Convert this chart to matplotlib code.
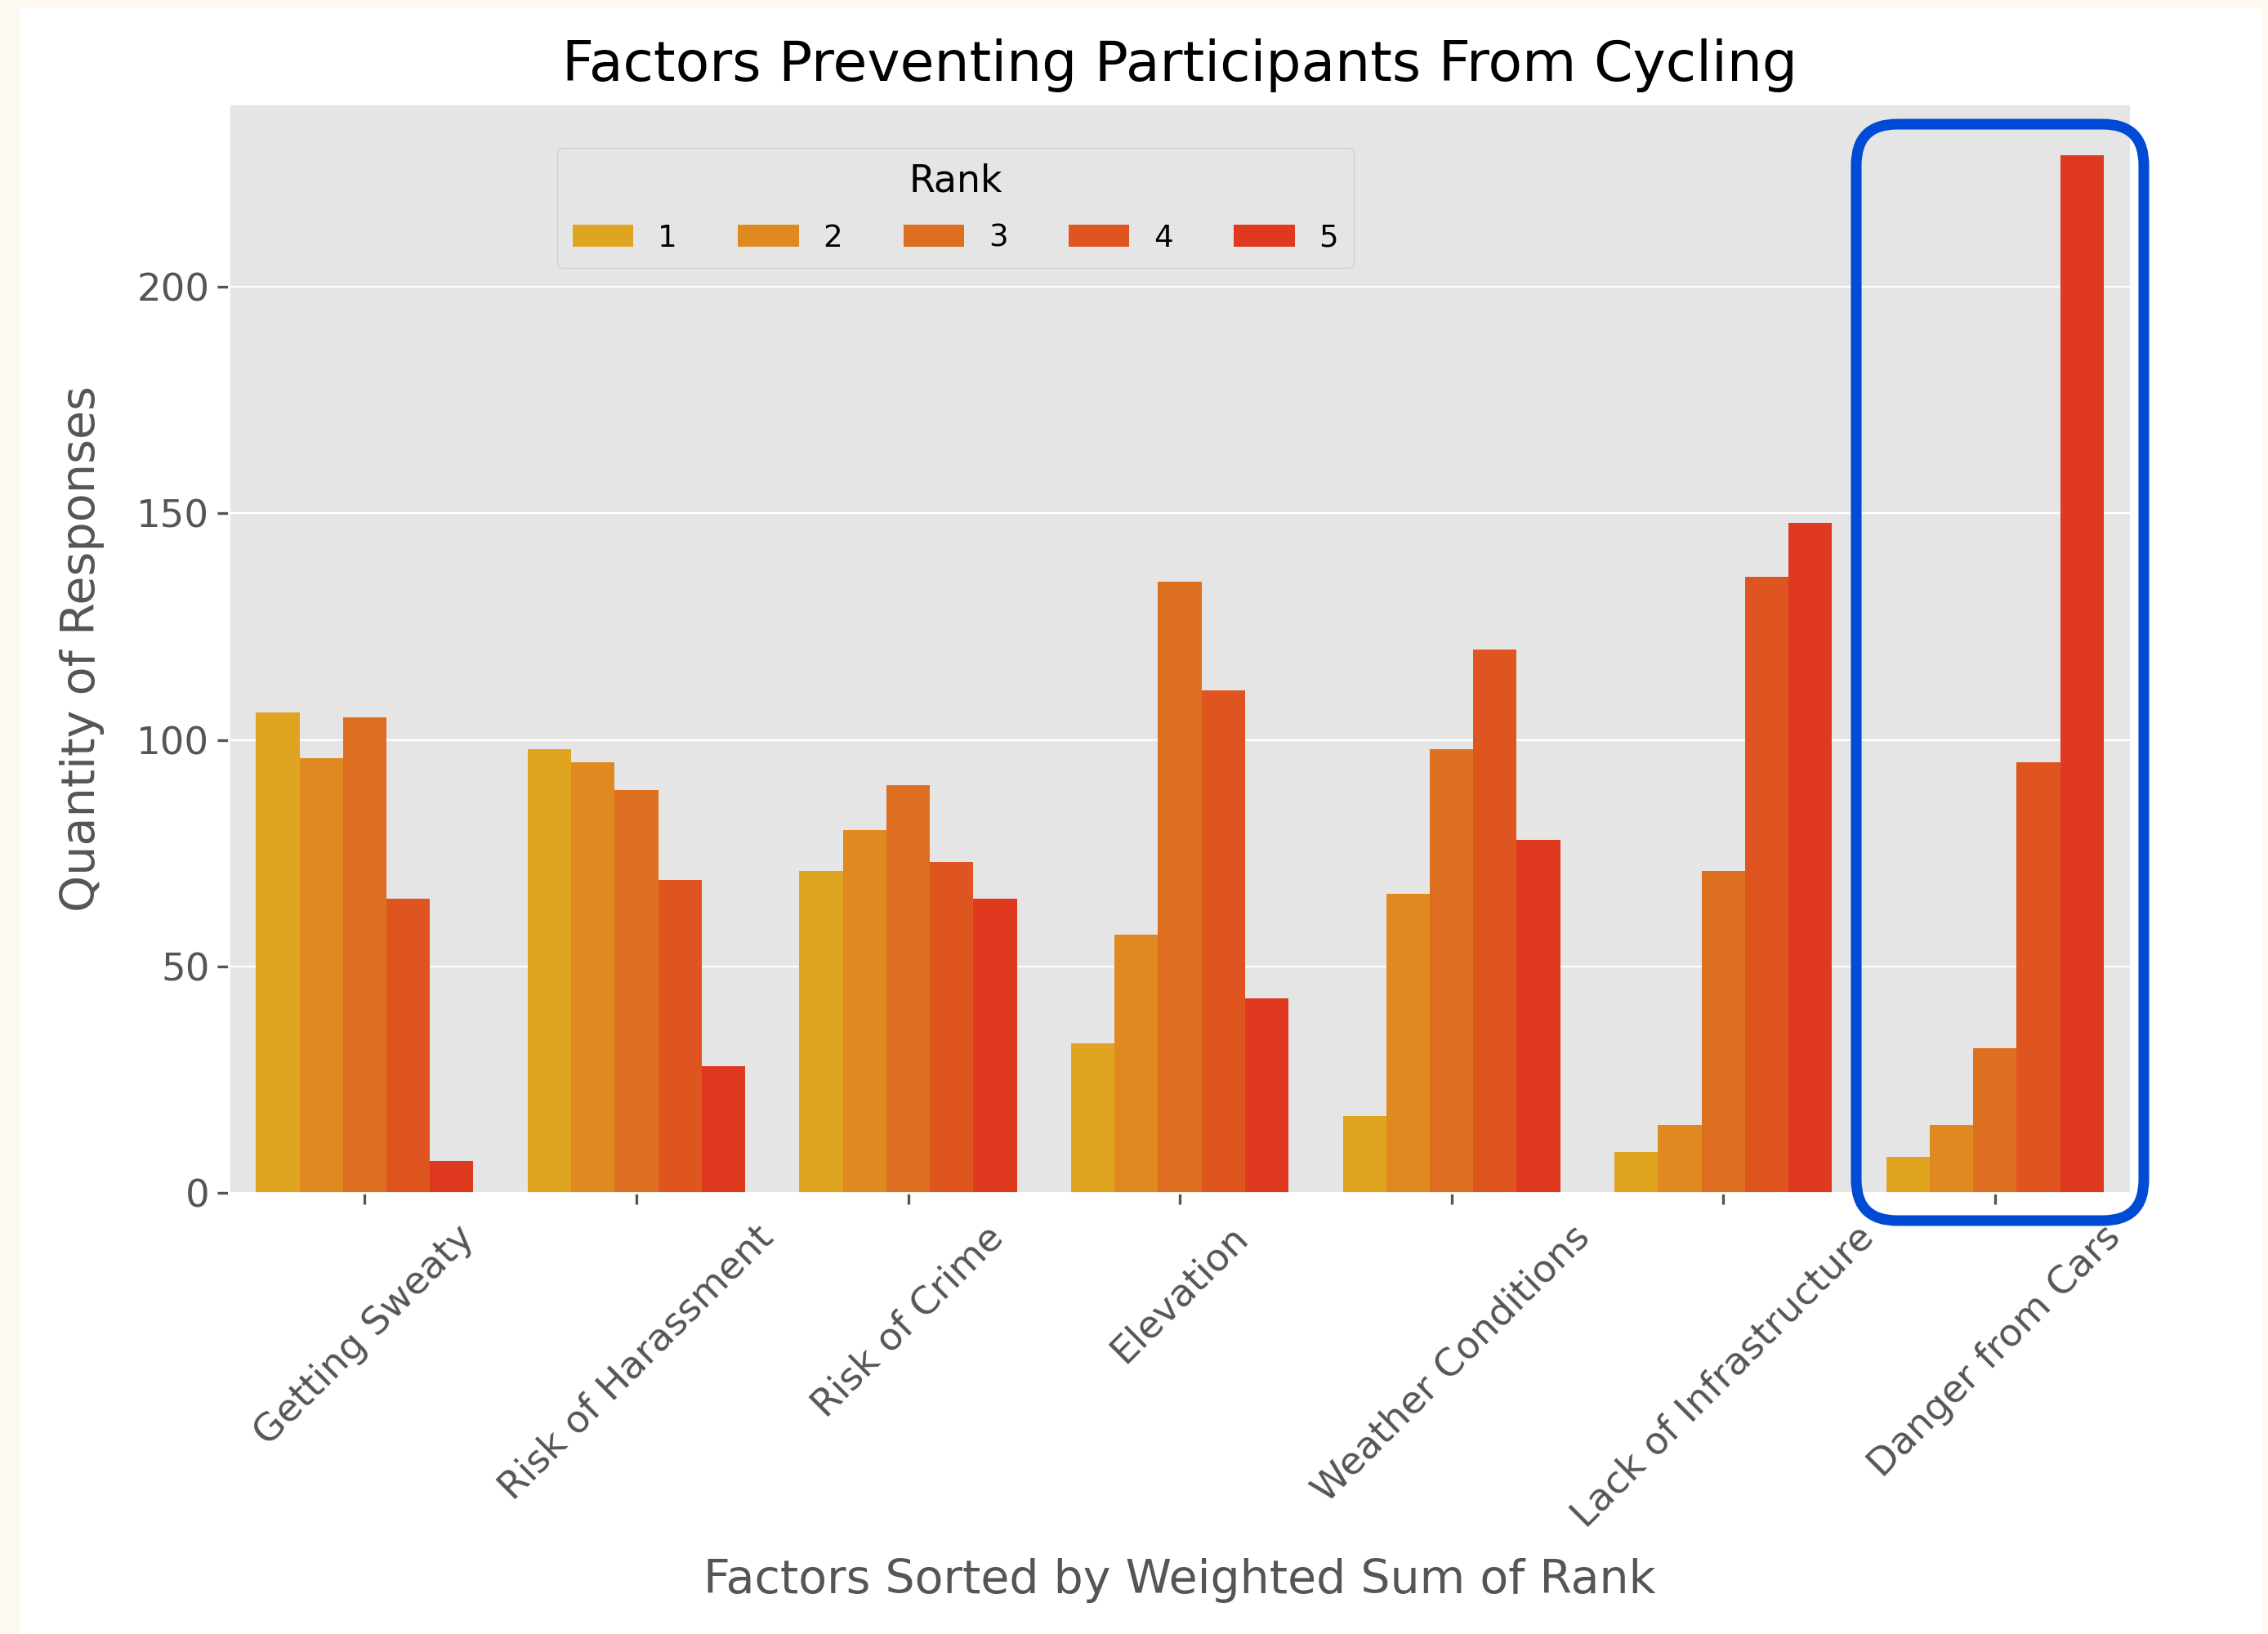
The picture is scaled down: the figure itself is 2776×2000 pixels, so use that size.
import matplotlib
matplotlib.use('Agg')
import matplotlib.pyplot as plt
from matplotlib.patches import Rectangle, FancyBboxPatch
import numpy as np

factors = ['Getting Sweaty', 'Risk of Harassment', 'Risk of Crime', 'Elevation',
           'Weather Conditions', 'Lack of Infrastructure', 'Danger from Cars']
ranks = ['1', '2', '3', '4', '5']
rank1 = [106, 98, 71, 33, 17, 9, 8]
rank2 = [96, 95, 80, 57, 66, 15, 15]
rank3 = [105, 89, 90, 135, 98, 71, 32]
rank4 = [65, 69, 73, 111, 120, 136, 95]
rank5 = [7, 28, 65, 43, 78, 148, 229]
rank_colors = ['#dfa420', '#df8920', '#df6f20', '#df5520', '#df3a20']

plt.style.use('ggplot')
fig = plt.figure(figsize=(13.88, 10), dpi=200)
fig.patch.set_facecolor('#fdf8f0')
fig.patches.append(Rectangle((25 / 2776, 0), 2745 / 2776, 0.995, transform=fig.transFigure,
                             facecolor='white', edgecolor='none', zorder=-10))

ax = fig.add_axes([0.1009, 0.27, 0.8386, 0.6665])
x = np.arange(len(factors))
w = 0.8 / len(ranks)
for j, (vals, c) in enumerate(zip([rank1, rank2, rank3, rank4, rank5], rank_colors)):
    ax.bar(x + (j - 2) * w, vals, width=w, color=c, edgecolor='none', linewidth=0, label=ranks[j])

ax.set_xlim(-0.5, len(factors) - 0.5)
ax.grid(False, axis='x')
ax.set_xticks(x)
ax.set_xticklabels(factors, rotation=45, ha='center')
ax.tick_params(axis='both', labelsize=16.8, length=5, width=1.2)
ax.tick_params(axis='x', pad=6.5)
ax.set_yticks([0, 50, 100, 150, 200])
ax.set_title('Factors Preventing Participants From Cycling', fontsize=24.5, color='black', pad=10)
ax.set_xlabel('Factors Sorted by Weighted Sum of Rank', fontsize=20.5, labelpad=10)
ax.set_ylabel('Quantity of Responses', fontsize=20.6, labelpad=14)
ax.legend(title='Rank', ncol=5, loc='upper left', bbox_to_anchor=(0.1727, 0.9595),
          borderaxespad=0, fontsize=13.4, title_fontsize=16.5, labelspacing=0.75,
          borderpad=0.5)

# highlight box around the last group
fig.patches.append(FancyBboxPatch((11.36, 2.53), 1.76, 6.71,
                                  boxstyle='round,pad=0,rounding_size=0.25',
                                  transform=fig.dpi_scale_trans, facecolor='none',
                                  edgecolor='#004bd6', linewidth=4.7, zorder=10))
fig.savefig('out.png', dpi=200)
